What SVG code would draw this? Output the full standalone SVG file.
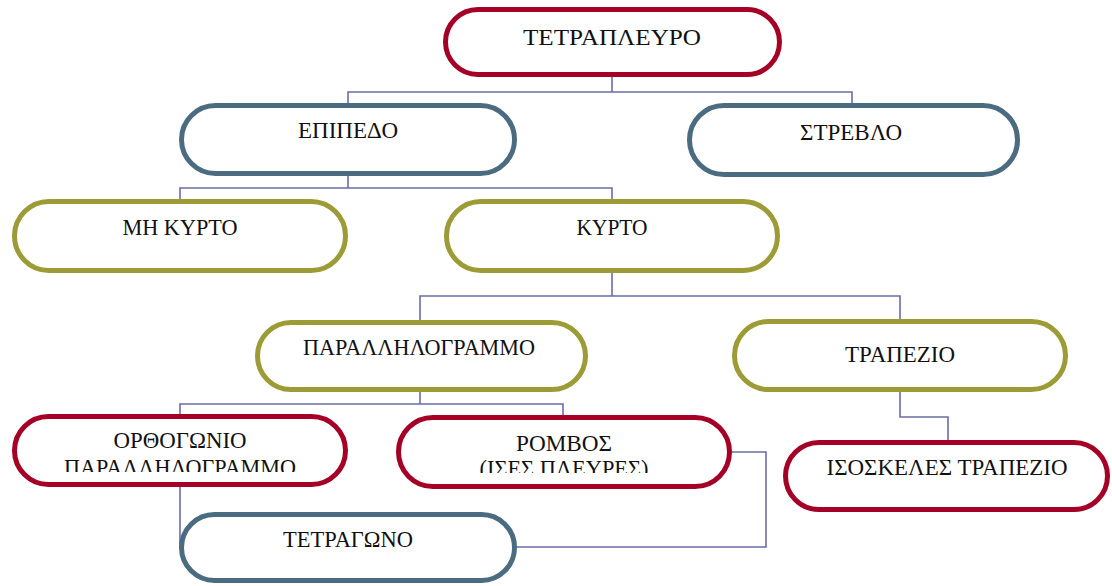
<svg xmlns="http://www.w3.org/2000/svg" width="1112" height="586" viewBox="0 0 1112 586">
<style>
.box{fill:#ffffff;stroke-width:5}
.red{stroke:#a50026}
.blue{stroke:#4b6b80}
.olive{stroke:#9c9b35}
.lbl{font-family:"Liberation Serif","DejaVu Serif",serif;font-size:23px;fill:#111111;text-anchor:middle}
.con{fill:none;stroke:#6c6ca8;stroke-width:1.6}
</style>
<defs>
<clipPath id="c1"><rect x="14" y="416" width="332" height="56"/></clipPath>
<clipPath id="c2"><rect x="398" y="417" width="332" height="56"/></clipPath>
</defs>
<g id="connectors">
<path class="con" d="M612 77 V92 M348 104 V92 H852 V104"/>
<path class="con" d="M348 176 V188 M180 200 V188 H612 V200"/>
<path class="con" d="M612 273 V296 M420 321 V296 H900 V320"/>
<path class="con" d="M420 392 V404 M180 415 V404 H563 V416"/>
<path class="con" d="M900 392 V417 H948 V441"/>
<path class="con" d="M180 487 V547"/>
<path class="con" d="M731 452 H766 V547 H516"/>
</g>
<g id="n-tetrapleyro"><rect class="box red" x="445.5" y="9.5" width="334" height="65" rx="32.5"/><text class="lbl" x="612" y="45" textLength="178" lengthAdjust="spacingAndGlyphs">ΤΕΤΡΑΠΛΕΥΡΟ</text></g>
<g id="n-epipedo"><rect class="box blue" x="181.5" y="105.5" width="333" height="68" rx="34"/><text class="lbl" x="348" y="138" textLength="100" lengthAdjust="spacingAndGlyphs">ΕΠΙΠΕΔΟ</text></g>
<g id="n-streblo"><rect class="box blue" x="689.5" y="105.5" width="328" height="69" rx="34.5"/><text class="lbl" x="851" y="140" textLength="102" lengthAdjust="spacingAndGlyphs">ΣΤΡΕΒΛΟ</text></g>
<g id="n-mi-kyrto"><rect class="box olive" x="14.5" y="201.5" width="331" height="69" rx="34.5"/><text class="lbl" x="180" y="235" textLength="115" lengthAdjust="spacingAndGlyphs">ΜΗ ΚΥΡΤΟ</text></g>
<g id="n-kyrto"><rect class="box olive" x="446.5" y="201.5" width="331" height="69" rx="34.5"/><text class="lbl" x="612" y="235" textLength="71" lengthAdjust="spacingAndGlyphs">ΚΥΡΤΟ</text></g>
<g id="n-parallilogrammo"><rect class="box olive" x="257.5" y="322.5" width="328" height="67" rx="33.5"/><text class="lbl" x="419" y="355" textLength="232" lengthAdjust="spacingAndGlyphs">ΠΑΡΑΛΛΗΛΟΓΡΑΜΜΟ</text></g>
<g id="n-trapezio"><rect class="box olive" x="734.5" y="321.5" width="331" height="68" rx="34"/><text class="lbl" x="900" y="362" textLength="110" lengthAdjust="spacingAndGlyphs">ΤΡΑΠΕΖΙΟ</text></g>
<g id="n-orthogonio"><rect class="box red" x="14.5" y="416.5" width="331" height="68" rx="34"/><g clip-path="url(#c1)"><text class="lbl" x="180" y="448" textLength="133" lengthAdjust="spacingAndGlyphs">ΟΡΘΟΓΩΝΙΟ</text><text class="lbl" x="180" y="474.5" textLength="232" lengthAdjust="spacingAndGlyphs">ΠΑΡΑΛΛΗΛΟΓΡΑΜΜΟ</text></g></g>
<g id="n-rombos"><rect class="box red" x="398.5" y="417.5" width="331" height="69" rx="34.5"/><g clip-path="url(#c2)"><text class="lbl" x="564" y="451" textLength="96" lengthAdjust="spacingAndGlyphs">ΡΟΜΒΟΣ</text><text class="lbl" x="564" y="475.5" textLength="169" lengthAdjust="spacingAndGlyphs">(ΙΣΕΣ ΠΛΕΥΡΕΣ)</text></g></g>
<g id="n-isoskeles"><rect class="box red" x="785.5" y="442.5" width="322" height="67" rx="33.5"/><text class="lbl" x="947" y="475" textLength="241" lengthAdjust="spacingAndGlyphs">ΙΣΟΣΚΕΛΕΣ ΤΡΑΠΕΖΙΟ</text></g>
<g id="n-tetragono"><rect class="box blue" x="181.5" y="514.5" width="333" height="66" rx="33"/><text class="lbl" x="348" y="547" textLength="130" lengthAdjust="spacingAndGlyphs">ΤΕΤΡΑΓΩΝΟ</text></g>
</svg>
